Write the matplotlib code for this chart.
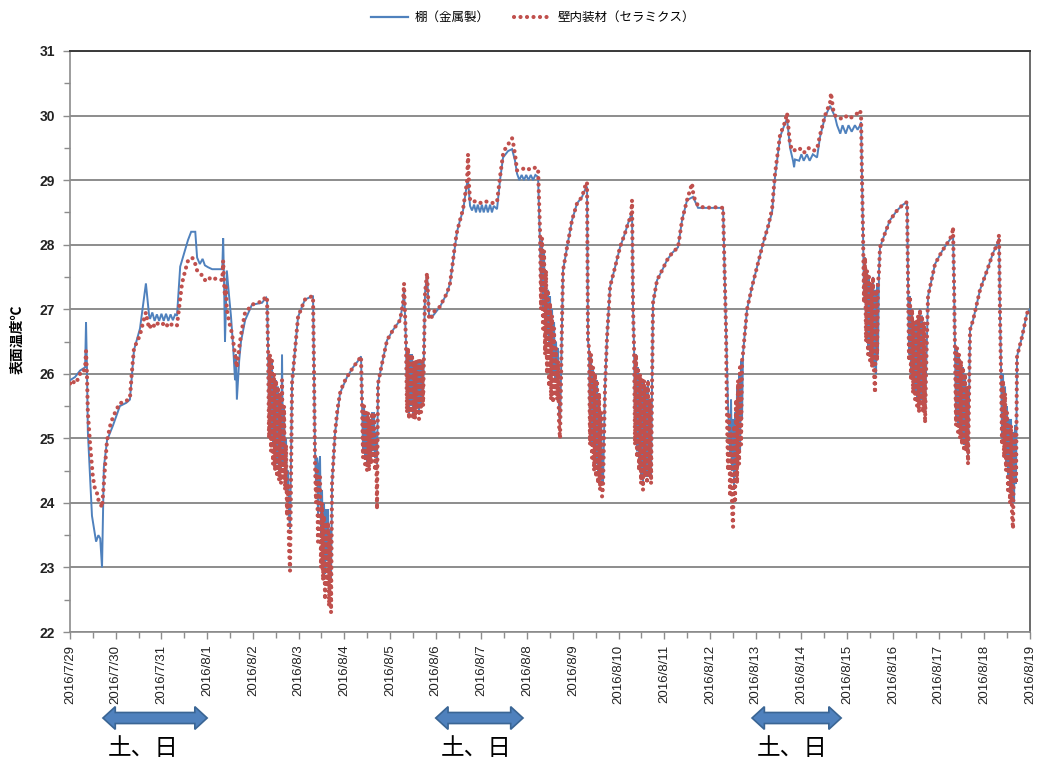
import matplotlib
matplotlib.use('Agg')
import matplotlib.pyplot as plt
import matplotlib.transforms as mtransforms
from matplotlib.patches import Polygon
from matplotlib.lines import Line2D

plt.rcParams['font.family'] = ['Liberation Sans', 'Noto Sans CJK JP', 'DejaVu Sans']

# ---------------- data (days since 2016/7/29 00:00, surface temperature degC) -------------
series_names = ['棚（金属製）', '壁内装材（セラミクス）']

blue_points = [
    (0.00, 25.90), (0.11, 25.95), (0.22, 26.05), (0.33, 26.10), (0.35, 26.80), (0.37, 26.10),
    (0.39, 25.10), (0.48, 23.80), (0.57, 23.40), (0.62, 23.50), (0.66, 23.45), (0.70, 23.00),
    (0.74, 24.55), (0.81, 24.97), (0.94, 25.20), (1.09, 25.50), (1.23, 25.55), (1.31, 25.60),
    (1.40, 26.37), (1.53, 26.70), (1.66, 27.40), (1.73, 26.90), (1.75, 26.85), (1.80, 26.95),
    (1.85, 26.82), (1.90, 26.92), (1.95, 26.82), (2.00, 26.93), (2.05, 26.82), (2.10, 26.93),
    (2.15, 26.82), (2.20, 26.92), (2.25, 26.83), (2.30, 26.92), (2.34, 26.90), (2.41, 27.66),
    (2.58, 28.07), (2.65, 28.20), (2.74, 28.20), (2.78, 27.80), (2.84, 27.70), (2.90, 27.78),
    (2.95, 27.68), (3.02, 27.65), (3.11, 27.62), (3.33, 27.62), (3.35, 28.10), (3.37, 27.40),
    (3.39, 26.50), (3.41, 27.00), (3.43, 27.60), (3.48, 27.20), (3.52, 26.90), (3.57, 26.40),
    (3.61, 25.90), (3.63, 26.30), (3.65, 25.60), (3.70, 26.20), (3.74, 26.50), (3.83, 26.83),
    (3.98, 27.07), (4.20, 27.10), (4.29, 27.18), (4.31, 27.15),
    (4.332, 26.4), (4.354, 25.2), (4.375, 26.3), (4.397, 25.0), (4.419, 26.2), (4.441, 24.9),
    (4.463, 26.0), (4.485, 24.7), (4.507, 25.9), (4.529, 24.6), (4.550, 25.8), (4.572, 24.5),
    (4.594, 25.7), (4.616, 24.5), (4.638, 26.3), (4.660, 24.6), (4.682, 25.5), (4.704, 24.4),
    (4.725, 25.0), (4.747, 24.2), (4.769, 24.5), (4.791, 23.8), (4.813, 23.6),
    (4.857, 25.86), (4.922, 26.37), (4.988, 26.88), (5.075, 27.04), (5.141, 27.15), (5.294, 27.20),
    (5.316, 27.20),
    (5.338, 26.0), (5.360, 24.8), (5.382, 24.3), (5.404, 24.7), (5.425, 23.8), (5.447, 24.6),
    (5.469, 24.72), (5.491, 23.5), (5.513, 24.2), (5.535, 23.2), (5.557, 24.0), (5.579, 22.9),
    (5.600, 23.9), (5.622, 23.1), (5.644, 23.9), (5.666, 22.8), (5.688, 23.6), (5.710, 22.8),
    (5.732, 24.3),
    (5.797, 25.08), (5.907, 25.70), (6.060, 25.95), (6.191, 26.10), (6.301, 26.20), (6.366, 26.27),
    (6.388, 25.55), (6.410, 24.8), (6.432, 25.5), (6.454, 24.7), (6.476, 25.4), (6.497, 24.6),
    (6.519, 25.4), (6.541, 24.5), (6.563, 25.3), (6.585, 24.7), (6.607, 25.4), (6.629, 24.8),
    (6.651, 25.4), (6.672, 24.7), (6.694, 25.1), (6.716, 24.6),
    (6.738, 25.85), (6.826, 26.16), (6.935, 26.52), (7.067, 26.68), (7.219, 26.83), (7.285, 27.10),
    (7.307, 27.30), (7.329, 26.90),
    (7.351, 26.45), (7.372, 25.5), (7.394, 26.4), (7.416, 25.4), (7.438, 26.3), (7.460, 25.5),
    (7.482, 26.3), (7.504, 25.4), (7.526, 26.2), (7.548, 25.4), (7.570, 26.2), (7.591, 25.5),
    (7.613, 26.2), (7.635, 25.4), (7.657, 26.2), (7.679, 25.5), (7.701, 26.2), (7.723, 25.6),
    (7.766, 27.25), (7.810, 27.56), (7.854, 26.90), (7.941, 26.90), (8.095, 27.04), (8.248, 27.25),
    (8.313, 27.40), (8.379, 27.75), (8.466, 28.20), (8.532, 28.38), (8.598, 28.53), (8.685, 28.95),
    (8.707, 29.00), (8.751, 28.60), (8.794, 28.53), (8.84, 28.62), (8.88, 28.50), (8.92, 28.62),
    (8.97, 28.50), (9.01, 28.62), (9.05, 28.50), (9.10, 28.62), (9.14, 28.50), (9.19, 28.62),
    (9.23, 28.50), (9.27, 28.60), (9.341, 28.55),
    (9.407, 29.00), (9.473, 29.35), (9.582, 29.45), (9.670, 29.48), (9.735, 29.30), (9.779, 29.10),
    (9.83, 29.00), (9.88, 29.08), (9.93, 29.00), (9.98, 29.08), (10.03, 29.00), (10.08, 29.08),
    (10.13, 29.00), (10.18, 29.08), (10.239, 29.05),
    (10.282, 28.0), (10.304, 27.3), (10.326, 28.1), (10.348, 27.0), (10.370, 27.9), (10.392, 26.8),
    (10.413, 27.6), (10.435, 26.6), (10.457, 27.3), (10.479, 26.5), (10.501, 27.2), (10.523, 26.3),
    (10.545, 27.0), (10.567, 26.0), (10.589, 26.8), (10.610, 25.9), (10.632, 26.5), (10.654, 25.9),
    (10.676, 26.4), (10.698, 25.4), (10.720, 25.2),
    (10.763, 26.83), (10.785, 27.60), (10.873, 27.96), (10.982, 28.38), (11.092, 28.64),
    (11.201, 28.74), (11.267, 28.85), (11.310, 28.90),
    (11.332, 26.5), (11.354, 26.4), (11.376, 25.1), (11.398, 26.3), (11.420, 24.9), (11.442, 26.1),
    (11.464, 24.7), (11.485, 26.0), (11.507, 24.6), (11.529, 25.9), (11.551, 24.5), (11.573, 25.7),
    (11.595, 24.4), (11.617, 25.4), (11.639, 24.3), (11.660, 24.3),
    (11.704, 25.80), (11.748, 26.57), (11.814, 27.35), (11.923, 27.65), (12.032, 27.96),
    (12.142, 28.18), (12.207, 28.33), (12.295, 28.50),
    (12.317, 27.0), (12.339, 26.4), (12.360, 25.0), (12.382, 26.3), (12.404, 24.8), (12.426, 26.1),
    (12.448, 24.6), (12.470, 26.0), (12.492, 24.4), (12.514, 25.9), (12.535, 24.3), (12.557, 25.9),
    (12.579, 24.5), (12.601, 25.8), (12.623, 24.4), (12.645, 25.9), (12.667, 24.5), (12.689, 25.6),
    (12.711, 24.4), (12.732, 25.8),
    (12.754, 27.10), (12.842, 27.45), (12.951, 27.60), (13.060, 27.76), (13.170, 27.87),
    (13.301, 27.96), (13.389, 28.38), (13.498, 28.69), (13.629, 28.74), (13.739, 28.57),
    (14.286, 28.57),
    (14.351, 26.68), (14.395, 25.5), (14.439, 24.78), (14.461, 25.6), (14.483, 24.5), (14.505, 25.3),
    (14.526, 24.2), (14.548, 25.4), (14.570, 24.4), (14.592, 25.8), (14.614, 24.6), (14.636, 26.0),
    (14.658, 24.8), (14.680, 26.2), (14.701, 25.3), (14.723, 26.32),
    (14.811, 27.00), (14.920, 27.35), (15.029, 27.65), (15.161, 28.02), (15.270, 28.28),
    (15.358, 28.50), (15.423, 29.05), (15.533, 29.67), (15.642, 29.88), (15.686, 29.95),
    (15.751, 29.50), (15.817, 29.30), (15.84, 29.20), (15.86, 29.32), (15.95, 29.30), (16.00, 29.40),
    (16.05, 29.30), (16.12, 29.40), (16.18, 29.30), (16.25, 29.40), (16.342, 29.35),
    (16.408, 29.67), (16.517, 29.98), (16.627, 30.15), (16.692, 30.05), (16.736, 29.98),
    (16.780, 29.85), (16.85, 29.72), (16.90, 29.85), (16.97, 29.72), (17.03, 29.85), (17.10, 29.75),
    (17.17, 29.85), (17.23, 29.78), (17.283, 29.85), (17.305, 29.90),
    (17.326, 29.0), (17.348, 28.18), (17.370, 27.2), (17.392, 27.8), (17.414, 26.6), (17.436, 27.6),
    (17.458, 26.4), (17.479, 27.5), (17.501, 26.3), (17.523, 27.4), (17.545, 26.2), (17.567, 27.5),
    (17.589, 26.1), (17.611, 27.3), (17.633, 26.0), (17.654, 27.4), (17.676, 26.3), (17.698, 27.6),
    (17.720, 27.96), (17.830, 28.18), (17.939, 28.38), (18.092, 28.53), (18.223, 28.62),
    (18.311, 28.66),
    (18.333, 27.4), (18.355, 26.3), (18.376, 27.2), (18.398, 26.0), (18.420, 27.0), (18.442, 25.8),
    (18.464, 26.8), (18.486, 25.7), (18.508, 26.8), (18.530, 25.6), (18.551, 26.9), (18.573, 25.5),
    (18.595, 27.0), (18.617, 25.6), (18.639, 26.9), (18.661, 25.5), (18.683, 26.8), (18.705, 25.3),
    (18.726, 26.0),
    (18.770, 27.20), (18.923, 27.70), (19.077, 27.90), (19.208, 28.04), (19.295, 28.12),
    (19.317, 28.15),
    (19.339, 27.4), (19.361, 26.3), (19.383, 25.3), (19.405, 26.4), (19.426, 25.2), (19.448, 26.3),
    (19.470, 25.1), (19.492, 26.2), (19.514, 25.0), (19.536, 26.1), (19.558, 24.9), (19.580, 26.0),
    (19.601, 24.9), (19.623, 25.8), (19.645, 24.7), (19.667, 25.6),
    (19.689, 26.68), (19.755, 26.83), (19.908, 27.30), (20.061, 27.60), (20.192, 27.87),
    (20.301, 28.03), (20.323, 28.10),
    (20.345, 26.9), (20.367, 26.1), (20.389, 25.0), (20.411, 26.0), (20.433, 24.8), (20.455, 25.8),
    (20.476, 24.6), (20.498, 25.5), (20.520, 24.4), (20.542, 25.3), (20.564, 24.2), (20.586, 25.3),
    (20.608, 24.0), (20.630, 25.1), (20.651, 24.0), (20.673, 25.2), (20.695, 24.3),
    (20.717, 26.27), (20.826, 26.57), (20.936, 26.94), (21.000, 27.00),
]

red_points = [
    (0.00, 25.85), (0.05, 25.82), (0.11, 25.92), (0.16, 25.90), (0.22, 26.00), (0.28, 26.00),
    (0.33, 26.10), (0.35, 26.35), (0.37, 26.00), (0.39, 25.40), (0.44, 24.90), (0.50, 24.40),
    (0.55, 24.20), (0.59, 24.15), (0.62, 24.05), (0.66, 24.00), (0.70, 23.93), (0.74, 24.30),
    (0.78, 24.70), (0.81, 24.97), (0.88, 25.20), (0.94, 25.33), (1.02, 25.45), (1.09, 25.55),
    (1.17, 25.55), (1.23, 25.58), (1.31, 25.62), (1.35, 26.00), (1.40, 26.40), (1.47, 26.50),
    (1.53, 26.60), (1.60, 26.80), (1.66, 26.95), (1.70, 26.80), (1.73, 26.70), (1.80, 26.78),
    (1.86, 26.72), (1.92, 26.78), (2.00, 26.75), (2.08, 26.80), (2.15, 26.72), (2.25, 26.78),
    (2.34, 26.75), (2.40, 27.10), (2.45, 27.40), (2.52, 27.60), (2.58, 27.75), (2.67, 27.80),
    (2.72, 27.75), (2.78, 27.60), (2.86, 27.55), (2.95, 27.45), (3.02, 27.50), (3.10, 27.45),
    (3.20, 27.48), (3.33, 27.45), (3.35, 27.75), (3.37, 27.40), (3.39, 27.20), (3.41, 27.35),
    (3.43, 27.00), (3.48, 26.80), (3.52, 26.70), (3.57, 26.50), (3.61, 26.30), (3.65, 26.10),
    (3.70, 26.40), (3.74, 26.60), (3.79, 26.80), (3.83, 26.95), (3.90, 27.00), (3.98, 27.07),
    (4.10, 27.10), (4.20, 27.12), (4.29, 27.20), (4.31, 27.15),
    (4.332, 26.4), (4.354, 25.0), (4.375, 26.3), (4.397, 24.8), (4.419, 26.2), (4.441, 24.6),
    (4.463, 26.0), (4.485, 24.5), (4.507, 25.9), (4.529, 24.4), (4.550, 25.8), (4.572, 24.35),
    (4.594, 25.7), (4.616, 24.3), (4.638, 25.9), (4.660, 24.4), (4.682, 25.5), (4.704, 24.2),
    (4.725, 24.9), (4.747, 23.8), (4.769, 24.3), (4.791, 23.3), (4.813, 22.95),
    (4.857, 25.86), (4.922, 26.37), (4.988, 26.88), (5.075, 27.04), (5.141, 27.15), (5.22, 27.18),
    (5.294, 27.20), (5.316, 27.20),
    (5.338, 26.0), (5.360, 24.6), (5.382, 24.0), (5.404, 24.5), (5.425, 23.4), (5.447, 24.3),
    (5.469, 24.4), (5.491, 23.0), (5.513, 24.0), (5.535, 22.8), (5.557, 23.8), (5.579, 22.5),
    (5.600, 23.7), (5.622, 22.7), (5.644, 23.7), (5.666, 22.4), (5.688, 23.5), (5.710, 22.3),
    (5.732, 24.3),
    (5.797, 25.08), (5.85, 25.45), (5.907, 25.70), (5.98, 25.85), (6.060, 25.95), (6.191, 26.10),
    (6.301, 26.20), (6.366, 26.27),
    (6.388, 25.55), (6.410, 24.7), (6.432, 25.5), (6.454, 24.6), (6.476, 25.4), (6.497, 24.5),
    (6.519, 25.4), (6.541, 24.5), (6.563, 25.3), (6.585, 24.6), (6.607, 25.4), (6.629, 24.7),
    (6.651, 25.4), (6.672, 24.5), (6.694, 25.0), (6.716, 23.9),
    (6.738, 25.85), (6.826, 26.16), (6.935, 26.52), (7.067, 26.68), (7.219, 26.83), (7.285, 27.10),
    (7.307, 27.40), (7.329, 26.90),
    (7.351, 26.45), (7.372, 25.4), (7.394, 26.4), (7.416, 25.3), (7.438, 26.3), (7.460, 25.4),
    (7.482, 26.3), (7.504, 25.3), (7.526, 26.2), (7.548, 25.3), (7.570, 26.2), (7.591, 25.4),
    (7.613, 26.2), (7.635, 25.3), (7.657, 26.2), (7.679, 25.4), (7.701, 26.2), (7.723, 25.5),
    (7.766, 27.25), (7.810, 27.56), (7.832, 27.20), (7.854, 26.85), (7.90, 26.85), (7.941, 26.95),
    (8.02, 27.00), (8.095, 27.04), (8.17, 27.15), (8.248, 27.25), (8.313, 27.40), (8.379, 27.75),
    (8.42, 28.00), (8.466, 28.20), (8.532, 28.38), (8.598, 28.55), (8.685, 28.98), (8.707, 29.40),
    (8.730, 28.90), (8.751, 28.70), (8.794, 28.66), (8.90, 28.68), (9.00, 28.64), (9.10, 28.67),
    (9.20, 28.64), (9.341, 28.66),
    (9.407, 29.05), (9.473, 29.40), (9.53, 29.50), (9.582, 29.55), (9.670, 29.65), (9.70, 29.55),
    (9.735, 29.40), (9.779, 29.15), (9.90, 29.18), (10.00, 29.15), (10.10, 29.20), (10.239, 29.18),
    (10.282, 28.2), (10.304, 27.0), (10.326, 28.1), (10.348, 26.7), (10.370, 27.9), (10.392, 26.3),
    (10.413, 27.6), (10.435, 26.0), (10.457, 27.3), (10.479, 25.8), (10.501, 27.1), (10.523, 25.6),
    (10.545, 26.9), (10.567, 25.55), (10.589, 26.7), (10.610, 25.7), (10.632, 26.4), (10.654, 25.6),
    (10.676, 26.2), (10.698, 25.2), (10.720, 25.0),
    (10.763, 26.83), (10.785, 27.60), (10.873, 27.96), (10.982, 28.38), (11.092, 28.64),
    (11.201, 28.74), (11.267, 28.90), (11.310, 28.97),
    (11.332, 26.5), (11.354, 26.4), (11.376, 24.9), (11.398, 26.3), (11.420, 24.7), (11.442, 26.1),
    (11.464, 24.5), (11.485, 26.0), (11.507, 24.4), (11.529, 25.9), (11.551, 24.3), (11.573, 25.7),
    (11.595, 24.2), (11.617, 25.4), (11.639, 24.1), (11.660, 24.25),
    (11.704, 25.80), (11.748, 26.57), (11.814, 27.35), (11.923, 27.65), (12.032, 27.96),
    (12.142, 28.18), (12.207, 28.33), (12.273, 28.45), (12.295, 28.69),
    (12.317, 27.0), (12.339, 26.4), (12.360, 24.9), (12.382, 26.3), (12.404, 24.7), (12.426, 26.1),
    (12.448, 24.5), (12.470, 26.0), (12.492, 24.3), (12.514, 25.9), (12.535, 24.2), (12.557, 25.9),
    (12.579, 24.4), (12.601, 25.8), (12.623, 24.3), (12.645, 25.9), (12.667, 24.4), (12.689, 25.6),
    (12.711, 24.3), (12.732, 25.8),
    (12.754, 27.10), (12.842, 27.45), (12.951, 27.60), (13.060, 27.76), (13.170, 27.87),
    (13.301, 27.96), (13.389, 28.38), (13.498, 28.69), (13.607, 28.95), (13.64, 28.75),
    (13.739, 28.60), (13.90, 28.57), (14.10, 28.58), (14.286, 28.57),
    (14.351, 26.68), (14.373, 25.3), (14.395, 24.5), (14.417, 25.4), (14.439, 24.1), (14.461, 25.1),
    (14.483, 23.9), (14.505, 23.63), (14.526, 25.2), (14.548, 24.0), (14.570, 25.6), (14.592, 24.3),
    (14.614, 25.9), (14.636, 24.6), (14.658, 26.1), (14.680, 24.9), (14.701, 26.2), (14.723, 26.32),
    (14.811, 27.00), (14.920, 27.35), (15.029, 27.65), (15.161, 28.02), (15.270, 28.28),
    (15.358, 28.55), (15.423, 29.10), (15.533, 29.70), (15.642, 29.90), (15.686, 30.04),
    (15.751, 29.55), (15.817, 29.45), (15.95, 29.50), (16.05, 29.42), (16.15, 29.50), (16.25, 29.45),
    (16.342, 29.48), (16.408, 29.70), (16.517, 30.00), (16.627, 30.20), (16.648, 30.35),
    (16.692, 30.10), (16.736, 30.00), (16.85, 29.95), (16.95, 30.00), (17.05, 29.95), (17.15, 30.00),
    (17.26, 30.05), (17.283, 30.08), (17.305, 30.00),
    (17.326, 29.0), (17.348, 28.18), (17.370, 27.1), (17.392, 27.8), (17.414, 26.5), (17.436, 27.6),
    (17.458, 26.3), (17.479, 27.5), (17.501, 26.2), (17.523, 27.4), (17.545, 26.1), (17.567, 27.5),
    (17.589, 26.0), (17.611, 25.7), (17.633, 27.3), (17.654, 26.2), (17.676, 27.4), (17.698, 27.6),
    (17.720, 27.96), (17.830, 28.18), (17.939, 28.38), (18.092, 28.53), (18.223, 28.62),
    (18.311, 28.66),
    (18.333, 27.4), (18.355, 26.2), (18.376, 27.2), (18.398, 25.9), (18.420, 27.0), (18.442, 25.7),
    (18.464, 26.8), (18.486, 25.6), (18.508, 26.8), (18.530, 25.5), (18.551, 26.9), (18.573, 25.4),
    (18.595, 27.0), (18.617, 25.5), (18.639, 26.9), (18.661, 25.4), (18.683, 26.8), (18.705, 25.24),
    (18.726, 26.0),
    (18.770, 27.20), (18.923, 27.70), (19.077, 27.90), (19.208, 28.04), (19.295, 28.15),
    (19.317, 28.27),
    (19.339, 27.4), (19.361, 26.3), (19.383, 25.2), (19.405, 26.4), (19.426, 25.1), (19.448, 26.3),
    (19.470, 25.0), (19.492, 26.2), (19.514, 24.9), (19.536, 26.1), (19.558, 24.8), (19.580, 26.0),
    (19.601, 24.8), (19.623, 25.8), (19.645, 24.6), (19.667, 25.6),
    (19.689, 26.68), (19.755, 26.83), (19.908, 27.30), (20.061, 27.60), (20.192, 27.87),
    (20.301, 28.03), (20.323, 28.15),
    (20.345, 26.9), (20.367, 26.0), (20.389, 24.9), (20.411, 25.9), (20.433, 24.7), (20.455, 25.7),
    (20.476, 24.5), (20.498, 25.4), (20.520, 24.2), (20.542, 25.2), (20.564, 24.0), (20.586, 25.2),
    (20.608, 23.8), (20.630, 23.6), (20.651, 24.9), (20.673, 25.1), (20.695, 24.3),
    (20.717, 26.27), (20.826, 26.57), (20.936, 26.94), (21.000, 27.00),
]

x_tick_labels = ['2016/7/29', '2016/7/30', '2016/7/31', '2016/8/1', '2016/8/2', '2016/8/3',
                 '2016/8/4', '2016/8/5', '2016/8/6', '2016/8/7', '2016/8/8', '2016/8/9',
                 '2016/8/10', '2016/8/11', '2016/8/12', '2016/8/13', '2016/8/14', '2016/8/15',
                 '2016/8/16', '2016/8/17', '2016/8/18', '2016/8/19']
y_ticks = [22, 23, 24, 25, 26, 27, 28, 29, 30, 31]
weekend_spans = [(0.72, 3.00), (8.00, 9.91), (14.92, 16.87)]
weekend_label = '土、日'
y_label = '表面温度℃'

# ---------------- figure ----------------
fig = plt.figure(figsize=(10.39, 7.6), dpi=100)
ax = fig.add_axes([0.0674, 0.1684, 0.9239, 0.7645])

bt, bv = zip(*blue_points)
rt, rv = zip(*red_points)
blue_c = '#4F81BD'
red_c = '#C0504D'
ax.plot(bt, bv, color=blue_c, lw=1.4, zorder=3, solid_joinstyle='miter')
ax.plot(rt, rv, color=red_c, lw=3.0, linestyle=(0, (0.01, 1.55)),
        dash_capstyle='round', zorder=4)

ax.set_xlim(0, len(x_tick_labels) - 1)
ax.set_ylim(y_ticks[0], y_ticks[-1])
ax.set_yticks(y_ticks)
ax.set_yticks([v + 0.5 for v in y_ticks[:-1]], minor=True)
ax.set_xticks(range(len(x_tick_labels)))
ax.set_xticks([i + 0.5 for i in range(len(x_tick_labels) - 1)], minor=True)
ax.set_xticklabels(x_tick_labels, rotation=90, fontsize=9.5, color='#222222')
ax.set_yticklabels([str(v) for v in y_ticks], fontsize=10, fontweight='bold', color='#222222')

ax.grid(axis='y', which='major', color='#8c8c8c', lw=1.4)
ax.set_axisbelow(True)
for side in ['left', 'bottom']:
    ax.spines[side].set_color('#8c8c8c')
    ax.spines[side].set_linewidth(1.2)
ax.spines['top'].set_color('#3a3a3a')
ax.spines['top'].set_linewidth(1.4)
ax.spines['right'].set_color('#6a6a6a')
ax.spines['right'].set_linewidth(1.4)
ax.tick_params(axis='both', which='major', length=5, color='#8c8c8c', width=1.0)
ax.tick_params(axis='both', which='minor', length=4, color='#8c8c8c', width=1.0)
ax.tick_params(axis='x', pad=4)
ax.tick_params(axis='y', pad=6)

fig.text(0.017, 0.553, y_label, rotation=90, va='center', ha='center', fontsize=10,
         fontweight='bold', family=['Noto Sans CJK JP', 'DejaVu Sans'])

handles = [Line2D([], [], color=blue_c, lw=1.6),
           Line2D([], [], color=red_c, lw=3.0, linestyle=(0, (0.01, 1.55)), dash_capstyle='round')]
fig.legend(handles, series_names, loc='upper center', bbox_to_anchor=(0.513, 1.0), ncol=2,
           frameon=False, handlelength=3.0, columnspacing=2.0, handletextpad=0.5,
           prop={'family': ['Noto Sans CJK JP', 'DejaVu Sans'], 'size': 9})

# weekend arrows and labels (below the axis)
trans = mtransforms.blended_transform_factory(ax.transData, ax.transAxes)
yc = -0.148
hl, bh, hh = 0.27, 0.0095, 0.0195
for s, e in weekend_spans:
    pts = [(s, yc), (s + hl, yc + hh), (s + hl, yc + bh), (e - hl, yc + bh), (e - hl, yc + hh),
           (e, yc), (e - hl, yc - hh), (e - hl, yc - bh), (s + hl, yc - bh), (s + hl, yc - hh)]
    ax.add_patch(Polygon(pts, closed=True, transform=trans, facecolor=blue_c,
                         edgecolor='#3A6594', lw=1.2, clip_on=False, zorder=5))
    ax.text(s + 0.11, -0.20, weekend_label, transform=trans, ha='left', va='center',
            fontsize=17, family=['Noto Sans CJK JP', 'DejaVu Sans'], clip_on=False)

fig.savefig('out.png', dpi=100)
